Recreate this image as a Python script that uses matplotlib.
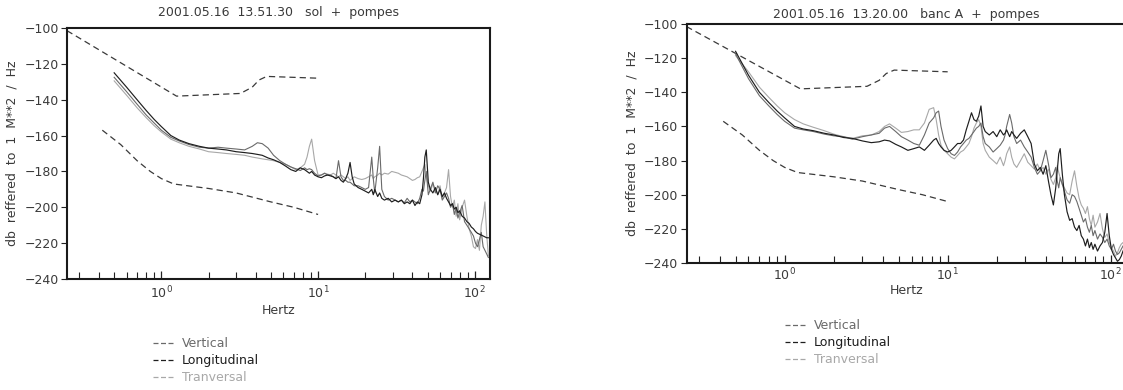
import matplotlib
matplotlib.use("Agg")
import matplotlib.pyplot as plt
from matplotlib.lines import Line2D
from matplotlib.ticker import LogLocator, NullFormatter
import numpy as np

plt.rcParams['font.family'] = ['DejaVu Sans']

# ---------------- data ----------------
freq_hz = [
    0.5, 0.6, 0.7, 0.8, 0.9, 1.0, 1.15, 1.3, 1.5, 1.75,
    2.0, 2.3, 2.6, 3.0, 3.4, 3.8, 4.1, 4.4, 4.8, 5.2,
    5.7, 6.2, 6.7, 7.2, 7.7, 8.2, 8.5, 8.8, 9.1, 9.5,
    10, 10.5, 11, 11.5, 12, 12.5, 13, 13.5, 14, 14.5,
    15, 15.5, 16, 16.5, 17, 18, 19, 20, 21, 22,
    22.5, 23, 24, 24.7, 25.5, 26.5, 28, 29.5, 31, 32.5,
    34, 35.5, 37, 38.5, 40, 41.5, 43, 44.5, 46, 47,
    48, 49, 50.5, 52, 54, 56, 58, 60, 62, 64,
    66, 68, 70, 72, 74, 76, 78, 80, 83, 86,
    89, 92, 95, 98, 101, 104, 107, 110, 113, 116,
    119, 122,
]

# left chart: "sol + pompes"
sol_vertical = [
    -127.5, -135.5, -142.5, -148.5, -153, -157, -161, -163, -165, -166.5,
    -167, -166.5, -167, -167.5, -168, -166, -164, -164.5, -167, -171,
    -174, -176, -177.5, -178.5, -179.5, -178, -179, -178.5, -179, -181,
    -182.5, -182, -181, -182, -182, -183, -184, -174, -183, -185,
    -185, -186, -186, -187, -188, -188, -189, -190, -189, -172,
    -184, -192, -178, -166, -190, -194, -196, -195, -196, -197,
    -196, -197.5, -195, -197, -196, -197, -198, -195, -190, -191,
    -185, -180, -193, -190, -186, -192, -188, -190, -196, -194,
    -192, -195, -200, -198, -204, -200, -206, -203, -199, -208,
    -210, -212, -214, -216, -220, -222, -218, -214, -222, -224,
    -226, -228,
]
sol_longitudinal = [
    -125, -133, -140, -146, -151, -155, -160, -162.5, -164.5, -166,
    -167, -167.5, -168, -169, -169.5, -170, -170.5, -171, -172.5, -173.5,
    -175, -177, -179, -180, -178, -179, -180, -181, -180, -182,
    -183, -183.5, -182.5, -182, -182.5, -183, -184, -183, -185, -186,
    -184, -181, -175, -183, -187, -189, -190, -191, -192, -190,
    -193, -190, -194, -192, -195, -196, -195, -197, -196, -197,
    -196, -198, -197, -198, -196, -199, -197, -198, -193, -184,
    -172, -168, -186, -190, -192, -189, -193, -190, -194, -192,
    -195, -197, -199, -198, -201, -200, -203, -202, -205, -206,
    -208, -209, -211, -212, -213.5, -214.5, -215, -215.5, -216, -216.5,
    -217, -217,
]
sol_transversal = [
    -129.5, -137.5, -144.5, -150, -154.5, -158, -162, -164, -166, -167.5,
    -169, -169.5, -170, -170.5, -171, -172, -172.5, -173, -173.5, -174,
    -175, -176, -177.5, -179, -178, -176, -172, -166, -162, -174,
    -182, -182, -181, -181.5, -182, -181, -182, -183, -182, -183,
    -184, -183, -185, -184, -183, -184, -184.5, -184, -183, -182,
    -184, -183, -182, -181, -182, -181, -181.5, -180, -180.5, -181,
    -182, -182.5, -183, -184, -185, -184.5, -183.5, -183, -180, -178,
    -176, -183, -188, -191, -187, -190, -193, -188, -195, -192,
    -189, -179, -194, -200, -196, -205, -198, -207, -200, -196,
    -205, -212, -216, -222, -223, -218, -224, -210, -205, -197,
    -215, -227,
]

# right chart: "banc A + pompes"
banc_vertical = [
    -117.5, -132, -142, -148, -153, -157, -161, -162, -163, -164.5,
    -165.5, -166, -167.5, -166, -165, -164, -161, -160, -163, -166,
    -168, -170, -171, -165, -158, -155, -152, -151, -160, -168,
    -173, -176, -177, -175, -172, -170, -168, -167, -165, -163,
    -161, -160, -158, -166, -170, -172, -175, -173, -171, -168,
    -165, -160, -153, -158, -166, -170, -168, -172, -175, -178,
    -184, -188, -186, -180, -174, -182, -190, -188, -184, -192,
    -196, -190, -194, -198, -203, -205, -200, -201, -204, -208,
    -212, -216, -214, -219, -222, -218, -224, -221, -226, -223,
    -225, -228, -226, -230, -232, -229, -233, -235, -234, -232,
    -230, -229,
]
banc_longitudinal = [
    -116, -130, -140, -146, -151, -155, -160, -161.5, -162.5, -164,
    -165, -166.5, -167, -168.5, -169.5, -169, -168, -168.5, -170.5, -172,
    -174, -173, -172, -174, -171, -168, -167, -170, -172, -174,
    -175, -174, -172, -170, -170, -168, -162, -157, -152, -156,
    -157, -154, -148, -160, -163, -165, -163, -166, -162, -165,
    -164, -162, -166, -163, -165, -167, -164, -162, -166, -170,
    -182, -186, -184, -188, -183, -192, -200, -206, -196, -186,
    -176, -173, -188, -200, -210, -215, -214, -219, -221, -218,
    -224, -226, -230, -226, -231, -228, -232, -229, -233, -230,
    -228, -222, -211, -224, -232, -235, -237, -239, -238, -236,
    -233, -231,
]
banc_transversal = [
    -118.5, -128, -137, -143, -148, -152, -156, -158.5, -160.5, -162.5,
    -164.5, -166, -167, -165.5, -165, -163, -160, -158.5, -161, -163.5,
    -163, -162, -162, -158, -150, -149, -156, -165, -171, -174,
    -176, -178, -179, -177, -175, -174, -172, -170, -166, -161,
    -158, -156, -160, -170, -174, -178, -180, -182, -178, -183,
    -180, -176, -172, -178, -182, -184, -180, -176, -181, -183,
    -185, -182, -186, -184, -188, -185, -191, -194, -190, -183,
    -187, -190, -194, -196, -199, -200, -192, -186, -195, -202,
    -206, -208, -211, -207, -214, -218, -212, -219, -216, -211,
    -220, -225, -223, -228, -231, -233, -236, -234, -231, -229,
    -228, -230,
]

# reference (limit) curves, dashed
limit_high_hz = [0.25, 1.25, 3.2, 3.8, 4.2, 4.7, 10]
limit_high_db = [-101.5, -138, -136.5, -133, -129, -127, -128]
limit_low_hz = [0.42, 0.55, 0.7, 0.85, 1.0, 1.2, 2.0, 3.0, 5.0, 7.0, 10]
limit_low_db = [-157, -165, -174, -180, -184, -187, -189.5, -192, -197, -200, -204]

series_labels = ['Vertical', 'Longitudinal', 'Tranversal']
titles = ['2001.05.16  13.51.30   sol  +  pompes',
          '2001.05.16  13.20.00   banc A  +  pompes']

# ---------------- styling ----------------
W, H = 1123, 390
C_V, C_L, C_T = '#6a6a6a', '#1e1e1e', '#a8a8a8'
C_REF = '#3a3a3a'
TXT = '#3a3a3a'

fig = plt.figure(figsize=(W / 100, H / 100), dpi=100)
ax1 = fig.add_axes([67 / W, 1 - 279 / H, 423 / W, 251 / H])
ax2 = fig.add_axes([686.5 / W, 1 - 263 / H, 440 / W, 239 / H])


def draw(ax, title, v, l, t, title_pad, tick_pad, xlabel_pad):
    ax.plot(limit_high_hz, limit_high_db, color=C_REF, lw=0.9, dashes=(5, 3.2))
    ax.plot(limit_low_hz, limit_low_db, color=C_REF, lw=0.9, dashes=(5, 3.2))
    ax.plot(freq_hz, t, color=C_T, lw=0.8)
    ax.plot(freq_hz, v, color=C_V, lw=0.8)
    ax.plot(freq_hz, l, color=C_L, lw=0.85)
    ax.set_xscale('log')
    ax.set_xlim(0.25, 125)
    ax.set_ylim(-240, -100)
    ax.set_yticks(np.arange(-240, -99, 20))
    ax.xaxis.set_major_locator(LogLocator(base=10, numticks=10))
    ax.xaxis.set_minor_locator(LogLocator(base=10, subs=np.arange(2, 10), numticks=30))
    ax.xaxis.set_minor_formatter(NullFormatter())
    ax.tick_params(axis='x', which='both', direction='in', top=False,
                   colors='#222222', labelcolor=TXT, labelsize=9, pad=tick_pad)
    ax.tick_params(axis='x', which='major', length=6, width=0.9)
    ax.tick_params(axis='x', which='minor', length=5, width=0.8)
    ax.tick_params(axis='y', direction='out', length=4, width=0.8, right=False,
                   colors='#222222', labelcolor=TXT, labelsize=9, pad=2)
    for s in ax.spines.values():
        s.set_linewidth(1.5)
        s.set_color('#1a1a1a')
    ax.set_title(title, fontsize=9, color=TXT, pad=title_pad)
    ax.set_xlabel('Hertz', fontsize=9, color=TXT, labelpad=xlabel_pad)
    ax.set_ylabel('db  reffered  to  1  M**2  /  Hz', fontsize=9, color=TXT, labelpad=4)


draw(ax1, titles[0], sol_vertical, sol_longitudinal, sol_transversal, 8.5, 4, 2)
draw(ax2, titles[1], banc_vertical, banc_longitudinal, banc_transversal, 4.5, 2.5, 1)

handles = [Line2D([], [], color=c, lw=0.9, dashes=(4, 2)) for c in (C_V, C_L, C_T)]
for x0, y0 in ((153, 337), (785, 319)):
    fig.legend(handles, series_labels, loc='upper left',
               bbox_to_anchor=(x0 / W, 1 - y0 / H), bbox_transform=fig.transFigure,
               frameon=False, handlelength=1.7, handletextpad=0.6,
               labelspacing=0.32, borderpad=0, borderaxespad=0,
               fontsize=9, labelcolor='linecolor')

fig.savefig('out.png', dpi=100, facecolor='white')
